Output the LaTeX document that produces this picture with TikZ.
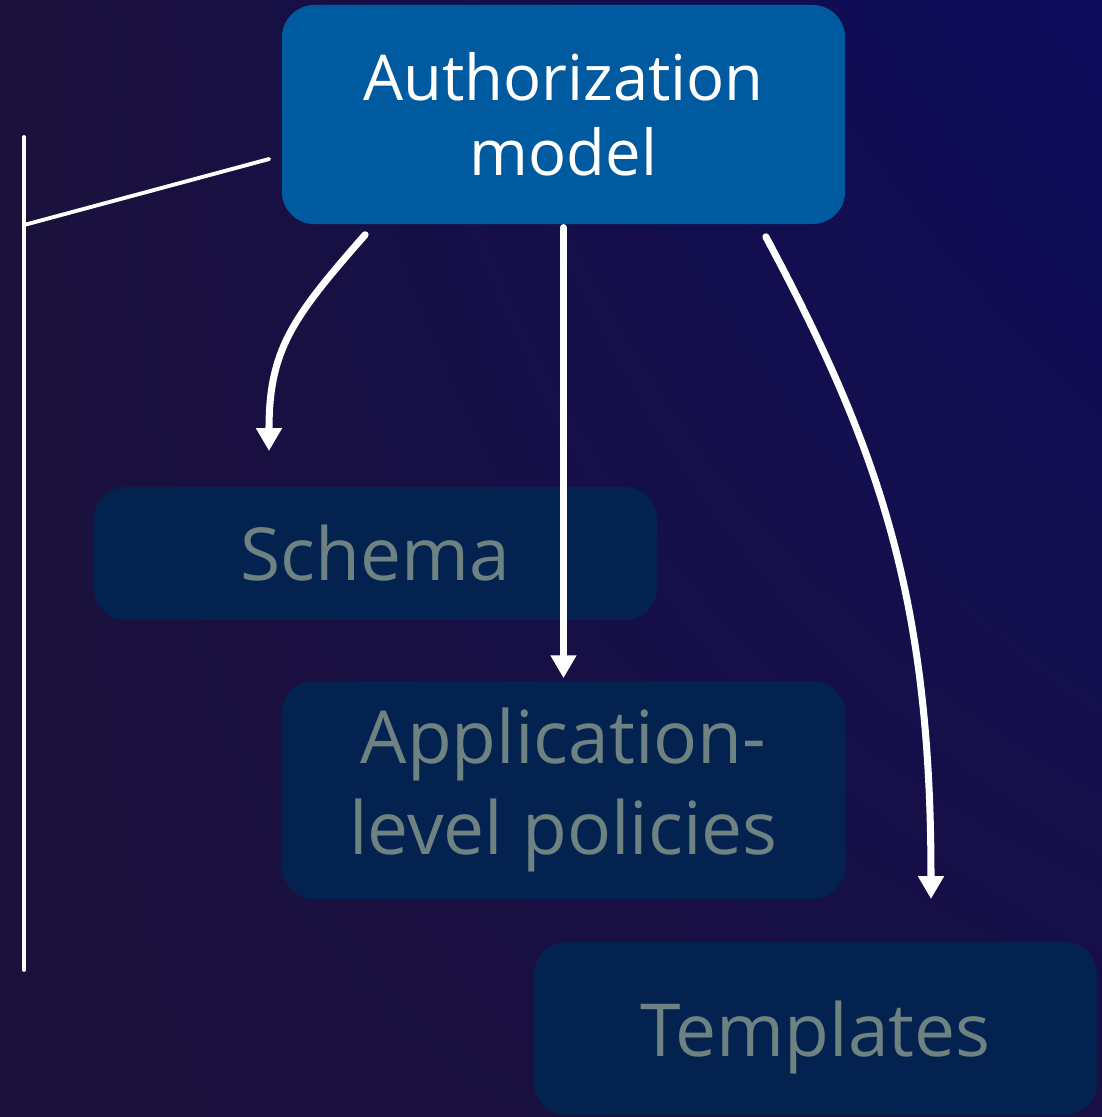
\documentclass[tikz,border=0pt]{standalone}
\usepackage{fontspec}
\setmainfont{Open Sans}
\usepackage{tikz}
\usetikzlibrary{arrows.meta,shadings}

\definecolor{bgPurple}{RGB}{27,17,60}
\definecolor{bgNavy}{RGB}{12,12,92}
\definecolor{bgMid}{RGB}{24,16,68}
\definecolor{authBlue}{RGB}{0,90,160}
\definecolor{itemBlue}{RGB}{3,34,80}
\definecolor{itemText}{RGB}{110,130,130}

\begin{document}
\begin{tikzpicture}[x=0.01cm,y=-0.01cm]
    \tikzstyle{every node} = [font=\fontsize{20.8}{25.5}\selectfont]
    \tikzstyle{block} = [rectangle, fill=itemBlue, text=itemText, rounded corners=9.3pt, minimum width=5.63cm, inner sep=0pt, align=center]
    \tikzstyle{flow} = [-{Triangle[width=7pt,length=6.5pt]}, white, line width=2pt, line cap=round]
    \tikzstyle{bracket} = [white, line width=1.1pt, line cap=round]

    % background
    \shade[upper left=bgPurple, upper right=bgNavy, lower left=bgPurple, lower right=bgMid]
    (0,0) rectangle (1102,1117);
    \useasboundingbox (0,0) rectangle (1102,1117);

    % place nodes
    \node[block, fill=authBlue, text=white, minimum height=2.19cm,
          font=\fontsize{18}{21.3}\selectfont] (authModel) at (563.5,114.5) {Authorization\\model};
    \node[block, minimum height=1.33cm] (schema) at (375.5,553.5) {Schema};
    \node[block, minimum height=2.18cm, font=\fontsize{20.8}{26}\selectfont] (appPolicies) at (563.5,790) {Application-\\level policies};
    \node[block, minimum height=1.73cm, text height=21pt, text depth=5pt] (templates) at (815.5,1028.5) {Templates};

    % free ends
    \coordinate (schemaIn) at (269,451);
    \coordinate (templatesIn) at (931,899);
    \coordinate (bracketTop) at (24,137);
    \coordinate (bracketBottom) at (24,970);
    \coordinate (bracketJoin) at (24,225);

    % Connections
    \draw[flow] (authModel.south west) ++(84,10) coordinate (schemaOut)
        .. controls (292,318) and (269,350) .. (schemaIn);
    \draw[flow] ([yshift=-0.8pt]authModel.south) -- ([yshift=0.6pt]appPolicies.north);
    \draw[flow] (authModel.south east) ++(-80,12) coordinate (templatesOut)
        .. controls (880,450) and (931,600) .. (templatesIn);
    \draw[bracket] (bracketTop) -- (bracketBottom);
    \draw[bracket] (bracketJoin) -- ([xshift=-3.4pt]authModel.west |- 0,159);

\end{tikzpicture}
\end{document}
